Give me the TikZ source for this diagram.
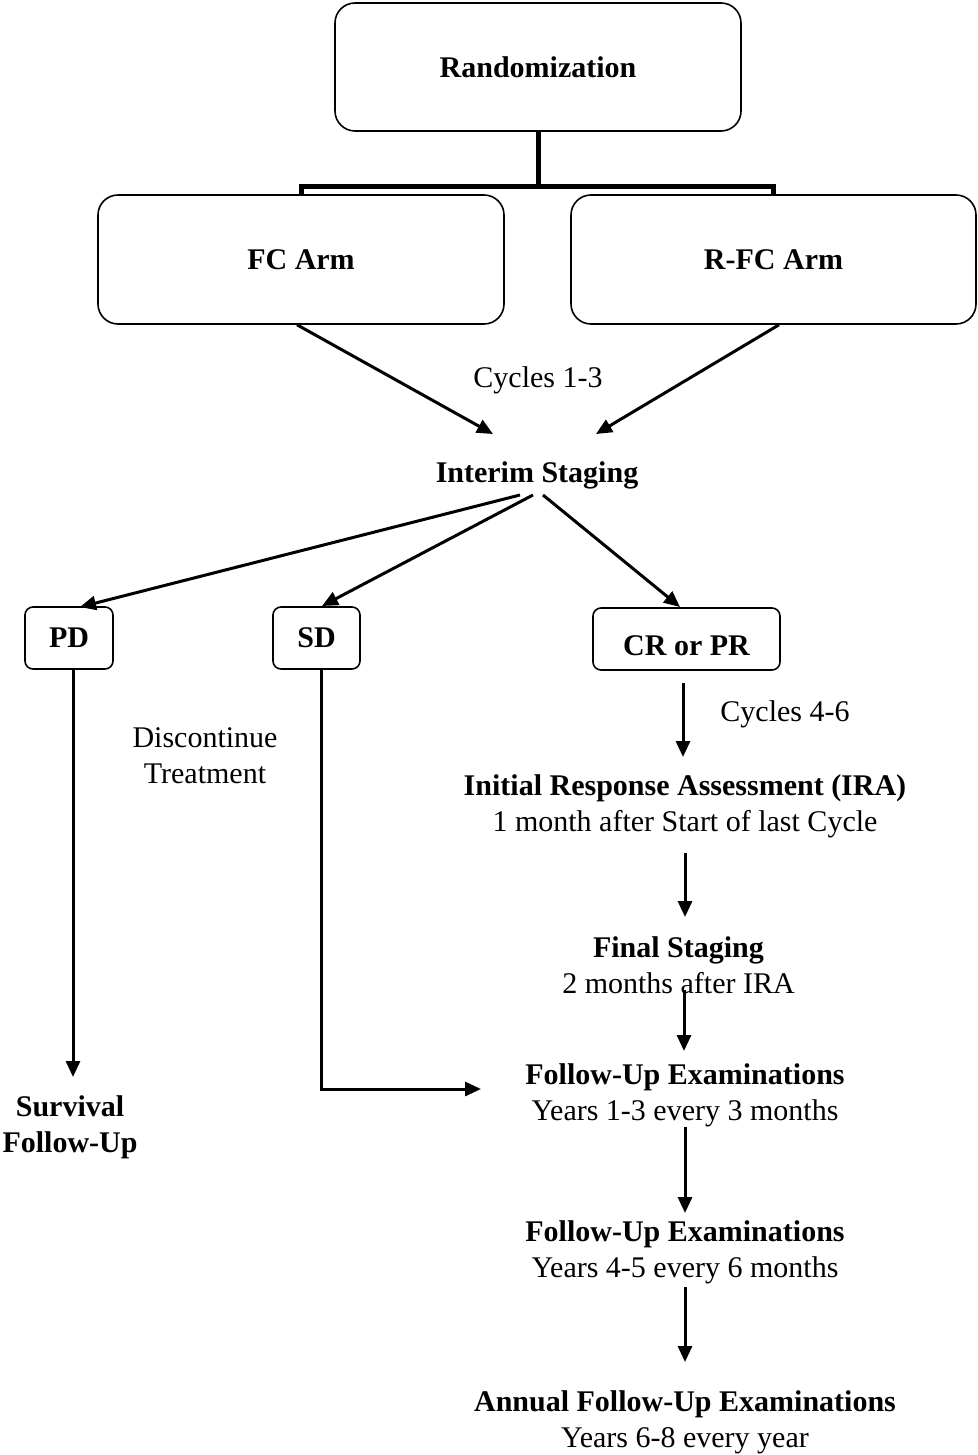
\documentclass[tikz,border=0pt]{standalone}
\usepackage{fontspec}
\setmainfont{Liberation Serif}
\usetikzlibrary{arrows.meta}

\begin{document}
\begin{tikzpicture}[x=1pt,y=-1pt,
    every node/.style={font=\fontsize{30}{36}\selectfont},
    bigbox/.style={draw,line width=1.6pt,rounded corners=20pt,font=\fontsize{30}{36}\selectfont\bfseries},
    smallbox/.style={draw,line width=1.6pt,rounded corners=8pt,minimum height=62pt,font=\fontsize{30}{36}\selectfont\bfseries},
    arr/.style={-{Triangle[length=16pt,width=14pt]},line width=3pt},
    bar/.style={line width=5pt}]
    \path[use as bounding box] (0,0) rectangle (977,1455);
    \node[bigbox,minimum width=406pt,minimum height=128pt] (rand) at (538,67) {Randomization};
    \node[bigbox,minimum width=406pt,minimum height=129pt] (fc) at (301,259.5) {FC Arm};
    \node[bigbox,minimum width=405pt,minimum height=129pt] (rfc) at (773.5,259.5) {R-FC Arm};
    \node (cyc13) at (538,380) {Cycles 1-3};
    \node (interim) at (537,475) {\textbf{Interim Staging}};
    \node[smallbox,minimum width=88pt] (pd) at (69,638) {PD};
    \node[smallbox,minimum width=87pt] (sd) at (316.5,638) {SD};
    \node[smallbox,minimum width=187pt,text height=34pt] (cr) at (686.5,639) {CR or PR};
    \node[align=center] (discont) at (205,756) {Discontinue\\Treatment};
    \node (cyc46) at (785,714) {Cycles 4-6};
    \node[align=center] (ira) at (685,806) {\textbf{Initial Response Assessment (IRA)}\\1 month after Start of last Cycle};
    \node[align=center] (final) at (678.5,965) {\textbf{Final Staging}\\2 months after IRA};
    \node[align=center] (fu1) at (685,1095) {\textbf{Follow-Up Examinations}\\Years 1-3 every 3 months};
    \node[align=center] (fu2) at (685,1252) {\textbf{Follow-Up Examinations}\\Years 4-5 every 6 months};
    \node[align=center] (annual) at (685,1422) {\textbf{Annual Follow-Up Examinations}\\Years 6-8 every year};
    \node[align=center] (survival) at (70,1127) {\textbf{Survival}\\\textbf{Follow-Up}};
    \draw[bar] (rand.south) -- ++(0,56);
    \draw[bar] (fc.north) -- ++(0,-8) -| (rfc.north);
    \draw[arr] ([shift={(-4,0)}]fc.south) -- ([shift={(-44,-41)}]interim.center);
    \draw[arr] ([shift={(5.5,0)}]rfc.south) -- ([shift={(59,-41)}]interim.center);
    \draw[arr] ([shift={(-17,20)}]interim.center) -- ([shift={(11,-31)}]pd.center);
    \draw[arr] ([shift={(-4,20)}]interim.center) -- ([shift={(5.5,-32)}]sd.center);
    \draw[arr] ([shift={(6,20)}]interim.center) -- ([shift={(-6.5,-32)}]cr.center);
    \draw[arr] ([shift={(4,0)}]pd.south) -- ([shift={(3,-50)}]survival.center);
    \draw[arr] ([shift={(4.5,0)}]sd.south) |- ([shift={(-204,-6)}]fu1.center);
    \draw[arr] ([shift={(-3.5,12)}]cr.south) -- ([shift={(-2,-49)}]ira.center);
    \draw[arr] ([shift={(0,47)}]ira.center) -- ([shift={(6.5,-48)}]final.center);
    \draw[arr] ([shift={(5.5,25)}]final.center) -- ([shift={(-1,-44)}]fu1.center);
    \draw[arr] ([shift={(0,32)}]fu1.center) -- ([shift={(0,-39)}]fu2.center);
    \draw[arr] ([shift={(0,35)}]fu2.center) -- ([shift={(0,-60)}]annual.center);
\end{tikzpicture}
\end{document}
